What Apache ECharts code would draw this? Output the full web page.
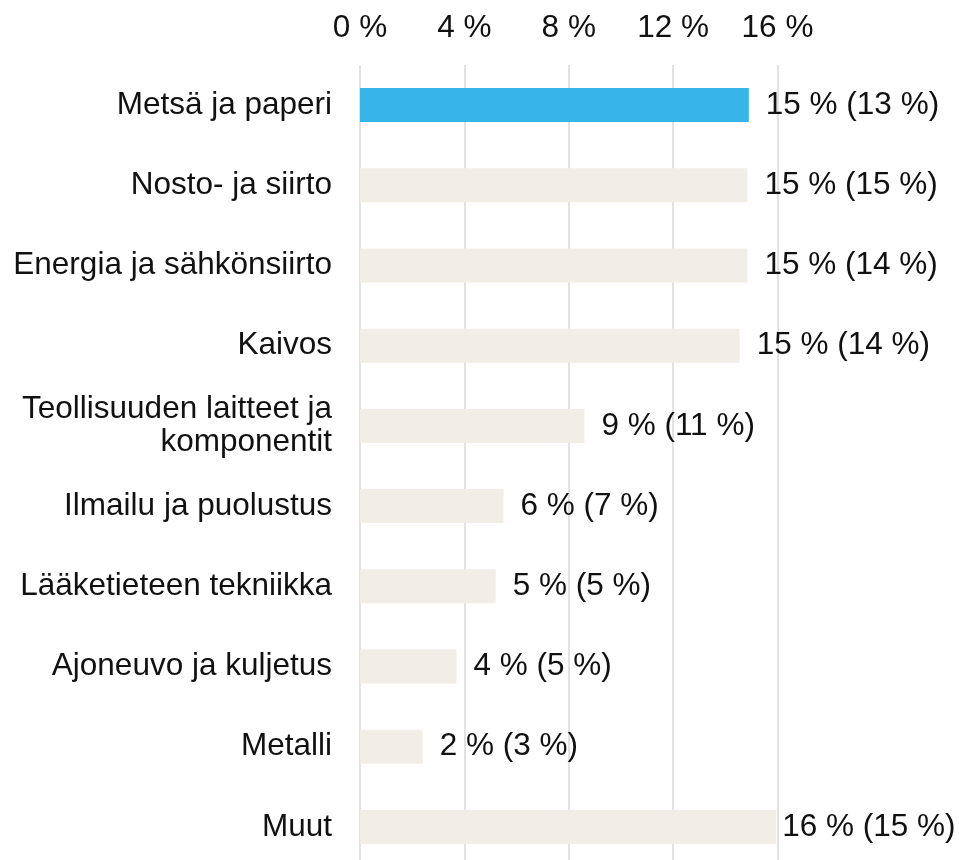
<!DOCTYPE html>
<html>
<head>
<meta charset="utf-8">
<script src="https://cdn.jsdelivr.net/npm/echarts@6/dist/echarts.min.js"></script>
<style>
  html, body { margin: 0; padding: 0; background: #fff; }
  #main { width: 959px; height: 860px; }
</style>
</head>
<body>
<div id="main"></div>
<script>
// toimialat, ylhäältä alas
var categories = [
  "Metsä ja paperi",
  "Nosto- ja siirto",
  "Energia ja sähkönsiirto",
  "Kaivos",
  "Teollisuuden laitteet ja\nkomponentit",
  "Ilmailu ja puolustus",
  "Lääketieteen tekniikka",
  "Ajoneuvo ja kuljetus",
  "Metalli",
  "Muut"
];
// pylväiden pituudet (%)
var values = [14.9, 14.85, 14.85, 14.55, 8.6, 5.5, 5.2, 3.7, 2.4, 15.95];
// näytetyt osuudet ja edellisen vuoden osuudet
var shown = [15, 15, 15, 15, 9, 6, 5, 4, 2, 16];
var previous = [13, 15, 14, 14, 11, 7, 5, 5, 3, 15];
var xTicks = [0, 4, 8, 12, 16];

var myChart = echarts.init(document.getElementById("main"));

var data = values.map(function (v, i) {
  var item = {
    value: v,
    itemStyle: { color: i === 0 ? "#35b5e8" : "#f1eee8" }
  };
  if (i === values.length - 1) {
    item.label = { distance: 6 };
  }
  return item;
});

myChart.setOption({
  animation: false,
  textStyle: { fontFamily: "Liberation Sans, Arial, sans-serif" },
  grid: {
    left: 360,
    top: 65,
    width: 417.5,
    height: 802,
    outerBoundsMode: "none"
  },
  xAxis: {
    type: "value",
    position: "top",
    min: xTicks[0],
    max: xTicks[xTicks.length - 1],
    interval: 4,
    axisLine: { show: false },
    axisTick: { show: false },
    axisLabel: {
      margin: 21,
      fontSize: 31.5,
      color: "#111",
      formatter: function (v) { return v + " %"; }
    },
    splitLine: { show: true, lineStyle: { color: "#d9d9d9", width: 1.5 } }
  },
  yAxis: {
    type: "category",
    inverse: true,
    data: categories,
    axisLine: { show: false },
    axisTick: { show: false },
    axisLabel: {
      margin: 28,
      fontSize: 31.5,
      lineHeight: 33,
      color: "#111",
      align: "right"
    }
  },
  series: [
    {
      type: "bar",
      data: data,
      barWidth: 34,
      label: {
        show: true,
        position: "right",
        distance: 17,
        fontSize: 31.5,
        color: "#111",
        formatter: function (p) {
          return shown[p.dataIndex] + " % (" + previous[p.dataIndex] + " %)";
        }
      }
    }
  ]
});
</script>
</body>
</html>
